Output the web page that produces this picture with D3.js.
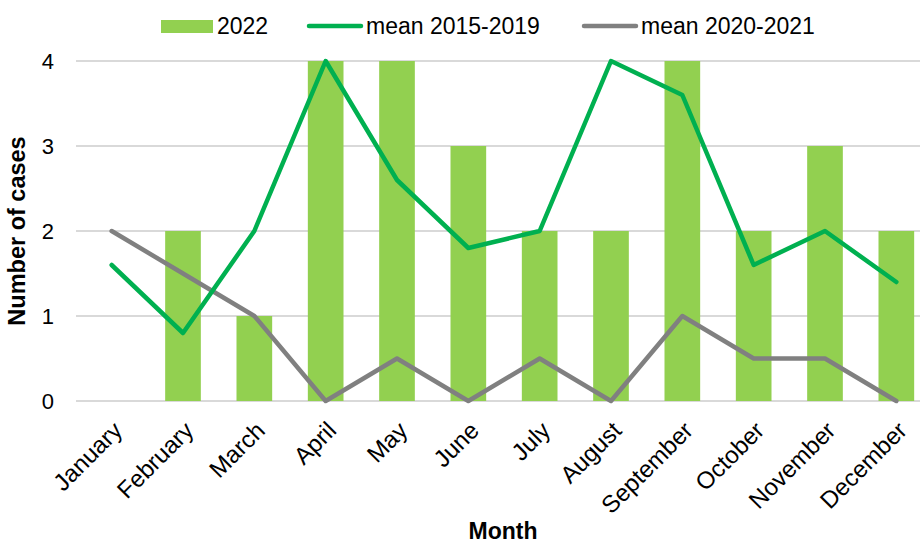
<!DOCTYPE html>
<html>
<head>
<meta charset="utf-8">
<script src="https://cdn.jsdelivr.net/npm/d3@7"></script>
<style>
  body { margin: 0; background: #fff; }
  svg { display: block; font-family: "Liberation Sans", Arial, sans-serif; }
</style>
</head>
<body>
<div id="chart"></div>
<script>
// chart data
const months = ["January", "February", "March", "April", "May", "June", "July",
    "August", "September", "October", "November", "December"];
const cases2022 = [0, 2, 1, 4, 4, 3, 2, 2, 4, 2, 3, 2];
const mean2015_2019 = [1.6, 0.8, 2, 4, 2.6, 1.8, 2, 4, 3.6, 1.6, 2, 1.4];
const mean2020_2021 = [2, 1.5, 1, 0, 0.5, 0, 0.5, 0, 1, 0.5, 0.5, 0];
const yTicks = [0, 1, 2, 3, 4];

const width = 920, height = 543;
const plot = { left: 76, right: 932, top: 61, bottom: 401 };

const svg = d3.select('#chart')
    .append('svg')
    .attr('width', width)
    .attr('height', height);

const x = d3.scaleBand()
    .domain(months)
    .range([plot.left, plot.right])
    .paddingInner(0.5)
    .paddingOuter(0.25);

const y = d3.scaleLinear()
    .domain([0, 4])
    .range([plot.bottom, plot.top]);

// gridlines
svg.selectAll('.grid')
    .data(yTicks)
    .enter()
    .append('line')
    .attr('x1', plot.left)
    .attr('x2', plot.right)
    .attr('y1', d => y(d))
    .attr('y2', d => y(d))
    .attr('stroke', '#d9d9d9')
    .attr('stroke-width', 2);

// y tick labels
svg.selectAll('.ytick')
    .data(yTicks)
    .enter()
    .append('text')
    .attr('x', 54)
    .attr('y', d => y(d))
    .attr('dy', '0.35em')
    .attr('text-anchor', 'end')
    .style('font-size', '22px')
    .text(d => d);

// bars
svg.selectAll('.bar')
    .data(cases2022)
    .enter()
    .append('rect')
    .attr('x', (d, i) => x(months[i]))
    .attr('width', x.bandwidth())
    .attr('y', d => y(d))
    .attr('height', d => y(0) - y(d))
    .attr('fill', '#92D050');

const cx = m => x(m) + x.bandwidth() / 2;

const line = d3.line()
    .x((d, i) => cx(months[i]))
    .y(d => y(d));

svg.append('path')
    .datum(mean2020_2021)
    .attr('d', line)
    .attr('fill', 'none')
    .attr('stroke', '#808080')
    .attr('stroke-width', 4.5)
    .attr('stroke-linecap', 'round')
    .attr('stroke-linejoin', 'round');

svg.append('path')
    .datum(mean2015_2019)
    .attr('d', line)
    .attr('fill', 'none')
    .attr('stroke', '#00B050')
    .attr('stroke-width', 4.5)
    .attr('stroke-linecap', 'round')
    .attr('stroke-linejoin', 'round');

// month labels
svg.selectAll('.xtick')
    .data(months)
    .enter()
    .append('text')
    .attr('text-anchor', 'end')
    .attr('transform', d => `translate(${cx(d) + 12},${432}) rotate(-45)`)
    .style('font-size', '24px')
    .text(d => d);

// axis titles
svg.append('text')
    .attr('x', 503)
    .attr('y', 539)
    .attr('text-anchor', 'middle')
    .style('font-size', '23px')
    .style('font-weight', 'bold')
    .text('Month');

svg.append('text')
    .attr('transform', `translate(25,${(plot.top + plot.bottom) / 2}) rotate(-90)`)
    .attr('text-anchor', 'middle')
    .style('font-size', '23.5px')
    .style('font-weight', 'bold')
    .text('Number of cases');

// legend
const legend = svg.append('g');
legend.append('rect')
    .attr('x', 161).attr('y', 20)
    .attr('width', 52).attr('height', 13)
    .attr('fill', '#92D050');
legend.append('text')
    .attr('x', 217).attr('y', 26).attr('dy', '0.35em')
    .style('font-size', '23px')
    .text('2022');

legend.append('line')
    .attr('x1', 309).attr('x2', 361).attr('y1', 26).attr('y2', 26)
    .attr('stroke', '#00B050').attr('stroke-width', 4.5).attr('stroke-linecap', 'round');
legend.append('text')
    .attr('x', 366).attr('y', 26).attr('dy', '0.35em')
    .style('font-size', '23px')
    .text('mean 2015-2019');

legend.append('line')
    .attr('x1', 584).attr('x2', 636).attr('y1', 26).attr('y2', 26)
    .attr('stroke', '#808080').attr('stroke-width', 4.5).attr('stroke-linecap', 'round');
legend.append('text')
    .attr('x', 641).attr('y', 26).attr('dy', '0.35em')
    .style('font-size', '23px')
    .text('mean 2020-2021');
</script>
</body>
</html>
